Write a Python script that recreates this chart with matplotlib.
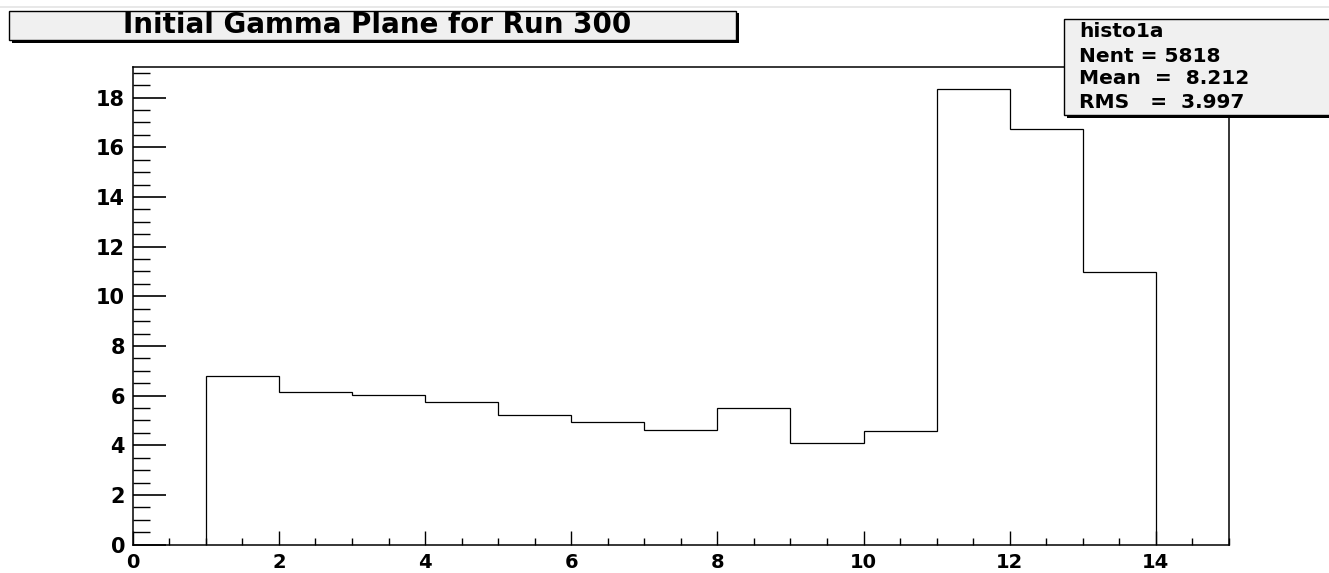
import matplotlib
matplotlib.use('Agg')
import matplotlib.pyplot as plt
from matplotlib.patches import Rectangle
from matplotlib.lines import Line2D
import numpy as np

# ---- data ----
bin_edges = [1, 2, 3, 4, 5, 6, 7, 8, 9, 10, 11, 12, 13, 14]
counts = [6.80, 6.16, 6.04, 5.75, 5.22, 4.94, 4.63, 5.52, 4.10, 4.56, 18.33, 16.74, 10.98]
x_ticks = [0, 2, 4, 6, 8, 10, 12, 14]
x_tick_labels = ["0", "2", "4", "6", "8", "10", "12", "14"]
y_ticks = [0, 2, 4, 6, 8, 10, 12, 14, 16, 18]
y_tick_labels = ["0", "2", "4", "6", "8", "10", "12", "14", "16", "18"]
title = "Initial Gamma Plane for Run 300"
stats_lines = ["histo1a", "Nent = 5818", "Mean  =  8.212", "RMS   =  3.997"]

plt.rcParams['font.family'] = ['DejaVu Sans']
plt.rcParams['font.weight'] = 'bold'

W, H = 1329, 573
fig = plt.figure(figsize=(W / 100, H / 100), dpi=100)
fig.patch.set_facecolor('white')


def fx(px):
    return px / W


def fy(py):
    return 1 - py / H


ax = fig.add_axes([fx(132.7), fy(544.6), fx(1229) - fx(132.7), fy(67.3) - fy(544.6)])
ax.stairs(counts, bin_edges, baseline=0, color='black', lw=0.9)
ax.set_xlim(0, 15)
ax.set_ylim(0, 19.22)

ax.set_xticks(x_ticks)
ax.set_xticklabels(x_tick_labels)
ax.set_xticks(np.arange(0, 15.01, 0.5), minor=True)
ax.set_yticks(y_ticks)
ax.set_yticklabels(y_tick_labels)
ax.set_yticks(np.arange(0, 19.01, 0.5), minor=True)

ax.tick_params(axis='x', which='major', direction='in', length=10, width=1.0,
               labelsize=14, pad=6, top=False)
ax.tick_params(axis='x', which='minor', direction='in', length=5, width=1.0, top=False)
ax.tick_params(axis='y', which='major', direction='in', length=23.5, width=1.2,
               labelsize=15, pad=5.5, right=False)
ax.tick_params(axis='y', which='minor', direction='in', length=12, width=1.0, right=False)
for lab in ax.get_xticklabels() + ax.get_yticklabels():
    lab.set_fontweight('bold')
for sp in ax.spines.values():
    sp.set_linewidth(1.1)
    sp.set_color('black')

# faint top line
fig.add_artist(Line2D([0, 1], [fy(6.5), fy(6.5)], transform=fig.transFigure,
                      color='#e4e4e4', lw=1.2))

# title box with shadow
tx0, tx1, ty0, ty1 = 9, 735.7, 10.7, 40
fig.add_artist(Rectangle((fx(tx0 + 3), fy(ty1 + 2.5)), fx(tx1) - fx(tx0), fy(ty0) - fy(ty1),
                         transform=fig.transFigure, facecolor='black', edgecolor='black',
                         lw=0, zorder=5))
fig.add_artist(Rectangle((fx(tx0), fy(ty1)), fx(tx1) - fx(tx0), fy(ty0) - fy(ty1),
                         transform=fig.transFigure, facecolor='#f0f0f0', edgecolor='black',
                         lw=1.0, zorder=6))
fig.text(fx(377), fy(25), title, fontsize=20, fontweight='bold',
         ha='center', va='center', zorder=7)

# stats box with shadow
sx0, sx1, sy0, sy1 = 1064, 1345, 19, 115
fig.add_artist(Rectangle((fx(sx0 + 3), fy(sy1 + 2.5)), fx(sx1) - fx(sx0), fy(sy0) - fy(sy1),
                         transform=fig.transFigure, facecolor='black', edgecolor='black',
                         lw=0, zorder=5))
fig.add_artist(Rectangle((fx(sx0), fy(sy1)), fx(sx1) - fx(sx0), fy(sy0) - fy(sy1),
                         transform=fig.transFigure, facecolor='#f0f0f0', edgecolor='black',
                         lw=1.0, zorder=6))
baselines = [37, 62, 84.5, 108]
for line, b in zip(stats_lines, baselines):
    fig.text(fx(1079), fy(b), line, fontsize=14.5, fontweight='bold',
             ha='left', va='baseline', zorder=7)

fig.savefig('out.png', dpi=100, facecolor='white')
